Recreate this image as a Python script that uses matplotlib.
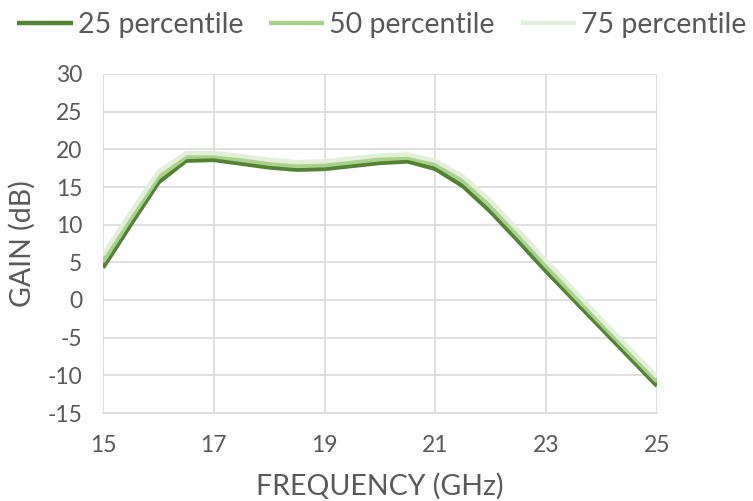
import matplotlib
matplotlib.use("Agg")
import matplotlib.pyplot as plt
import numpy as np

freq = [15, 15.5, 16, 16.5, 17, 17.5, 18, 18.5, 19, 19.5, 20, 20.5, 21,
        21.5, 22, 22.5, 23, 23.5, 24, 24.5, 25]
p25 = [4.3, 10.0, 15.6, 18.5, 18.6, 18.1, 17.6, 17.3, 17.4, 17.8, 18.2, 18.4,
       17.4, 15.1, 11.7, 7.8, 3.8, 0.0, -3.8, -7.6, -11.4]
p50 = [5.1, 10.8, 16.3, 19.0, 19.1, 18.6, 18.1, 17.8, 17.9, 18.3, 18.7, 18.9,
       18.0, 15.8, 12.4, 8.5, 4.5, 0.6, -3.2, -7.0, -10.8]
p75 = [6.0, 11.6, 17.0, 19.5, 19.5, 19.1, 18.6, 18.3, 18.4, 18.8, 19.2, 19.3,
       18.5, 16.4, 13.1, 9.2, 5.2, 1.3, -2.6, -6.4, -10.2]
series_names = ["25 percentile", "50 percentile", "75 percentile"]
xticks = [15, 17, 19, 21, 23, 25]
yticks = [-15, -10, -5, 0, 5, 10, 15, 20, 25, 30]

plt.rcParams['font.family'] = ['Lato', 'DejaVu Sans']
txt = '#595959'
grid = '#D9D9D9'

fig = plt.figure(figsize=(7.53, 5.01), dpi=100)
ax = fig.add_axes([103/753, 1-413/501, (657-103)/753, (413-74)/501])

colors = ['#548235', '#A9D18E', '#E2F0D9']
for vals, name, c in zip([p25, p50, p75], series_names, colors):
    ax.plot(freq, vals, color=c, lw=3.2, label=name, solid_capstyle='butt',
            solid_joinstyle='round', zorder=3)

ax.set_xlim(15, 25)
ax.set_ylim(-15, 30)
ax.set_xticks(xticks)
ax.set_yticks(yticks)
ax.set_xticklabels([str(v) for v in xticks])
ax.set_yticklabels([str(v) for v in yticks])
ax.grid(True, color=grid, lw=1.2)
ax.set_axisbelow(True)
for s in ax.spines.values():
    s.set_visible(False)
ax.spines['bottom'].set_visible(True)
ax.spines['bottom'].set_color(grid)
ax.spines['bottom'].set_linewidth(1.2)
ax.tick_params(length=0, labelsize=16.5, colors=txt)
ax.tick_params(axis='x', pad=16)
ax.tick_params(axis='y', pad=15)
ax.set_xlabel("FREQUENCY (GHz)", fontsize=20.5, color=txt, labelpad=12)
ax.set_ylabel("GAIN (dB)", fontsize=20.5, color=txt, labelpad=8)

fig.legend(loc='center left', bbox_to_anchor=(17/753, 1-25/501), ncol=3,
           frameon=False, fontsize=20.5, labelcolor=txt, handlelength=1.95,
           handletextpad=0.18, columnspacing=0.9, borderaxespad=0,
           borderpad=0)

fig.savefig("out.png", dpi=100)
